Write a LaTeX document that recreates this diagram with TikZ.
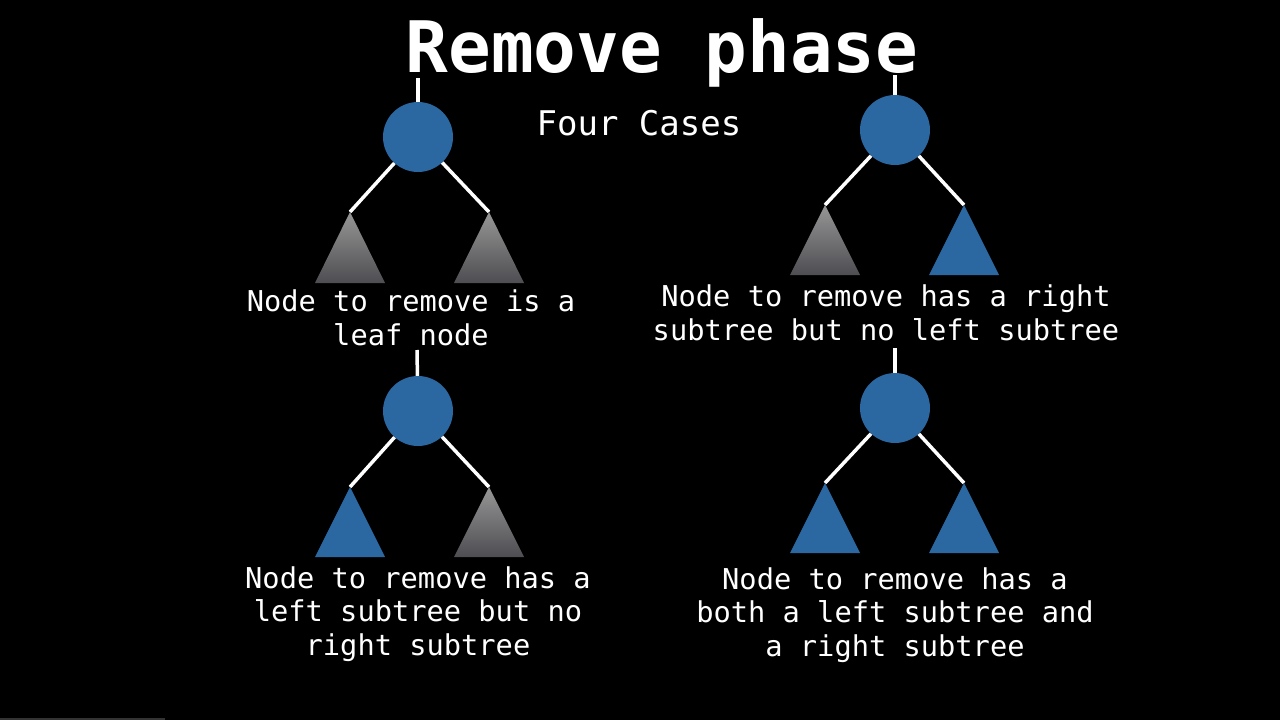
\documentclass[tikz,border=0pt]{standalone}
\usepackage{fontspec}
\setmonofont{DejaVu Sans Mono}
\begin{document}
\begin{tikzpicture}[x=1pt,y=-1pt,
  rootnode/.style={circle,fill=nodeblue,minimum size=70pt,inner sep=0pt},
  link/.style={draw=white,line width=3.5pt},
  bluetri/.style={fill=nodeblue},
  graytri/.style={top color=trigraytop,bottom color=trigraybot},
  lbl/.style={text=white,align=center,font=\ttfamily\fontsize{28.7}{33.5}\selectfont,inner sep=0pt}]
\definecolor{nodeblue}{RGB}{43,103,161}
\definecolor{trigraytop}{RGB}{150,150,150}
\definecolor{trigraybot}{RGB}{78,78,82}
\useasboundingbox (0,0) rectangle (1280,720);
\fill[black] (0,0) rectangle (1280,720);
\fill[black!80] (0,718) rectangle (165,720);
% title
\node[text=white,anchor=base,inner sep=0pt,font=\ttfamily\bfseries\fontsize{71}{78}\selectfont] (title) at (662,72) {Remove phase};
\node[text=white,anchor=base,inner sep=0pt,font=\ttfamily\fontsize{34}{40}\selectfont] (sub) at (639,135) {Four Cases};
% tree 1
\coordinate (s1) at (418,78);
\node[rootnode] (r1) at (418,137) {};
\coordinate (a1l) at (350,212);
\coordinate (a1r) at (489,212);
\path[graytri] (a1l) -- ++(-35,71) -- ++(70,0) -- cycle;
\path[graytri] (a1r) -- ++(-35,71) -- ++(70,0) -- cycle;
\draw[link] (s1) -- (r1);
\draw[link] (r1) -- (a1l);
\draw[link] (r1) -- (a1r);
\node[lbl] (l1) at (411,318) {Node to remove is a\\leaf node};
% tree 2
\coordinate (s2) at (895,75);
\node[rootnode] (r2) at (895,130) {};
\coordinate (a2l) at (825,205);
\coordinate (a2r) at (964,205);
\path[graytri] (a2l) -- ++(-35,70) -- ++(70,0) -- cycle;
\path[bluetri] (a2r) -- ++(-35,70) -- ++(70,0) -- cycle;
\draw[link] (s2) -- (r2);
\draw[link] (r2) -- (a2l);
\draw[link] (r2) -- (a2r);
\node[lbl] (l2) at (886,313) {Node to remove has a right\\subtree but no left subtree};
% tree 3
\coordinate (s3) at (417,350);
\node[rootnode] (r3) at (418,411) {};
\coordinate (a3l) at (350,487);
\coordinate (a3r) at (489,487);
\path[bluetri] (a3l) -- ++(-35,70) -- ++(70,0) -- cycle;
\path[graytri] (a3r) -- ++(-35,70) -- ++(70,0) -- cycle;
\draw[link] (s3) -- (r3);
\draw[link] (r3) -- (a3l);
\draw[link] (r3) -- (a3r);
\node[lbl] (l3) at (418,614) {Node to remove has a\\left subtree but no\\right subtree};
% tree 4
\coordinate (s4) at (895,348);
\node[rootnode] (r4) at (895,408) {};
\coordinate (a4l) at (825,483);
\coordinate (a4r) at (964,483);
\path[bluetri] (a4l) -- ++(-35,70) -- ++(70,0) -- cycle;
\path[bluetri] (a4r) -- ++(-35,70) -- ++(70,0) -- cycle;
\draw[link] (s4) -- (r4);
\draw[link] (r4) -- (a4l);
\draw[link] (r4) -- (a4r);
\node[lbl] (l4) at (895,615) {Node to remove has a\\both a left subtree and\\a right subtree};
\end{tikzpicture}
\end{document}
